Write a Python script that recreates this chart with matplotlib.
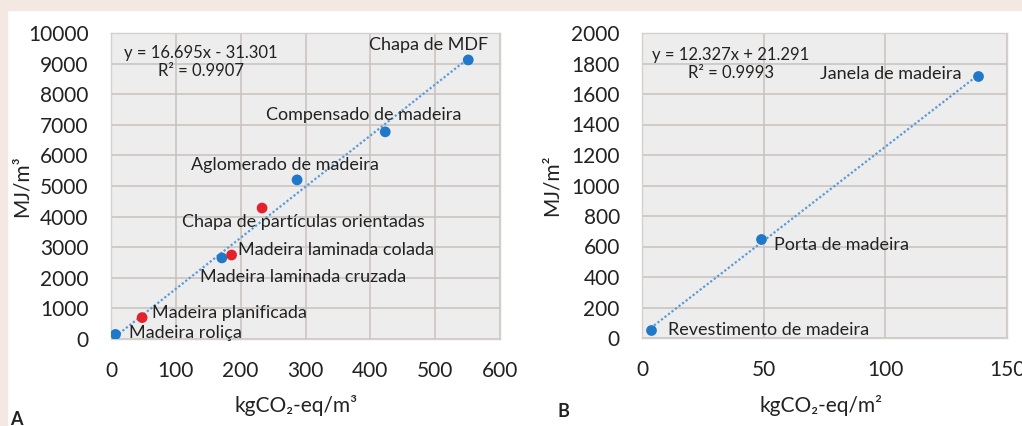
import numpy as np
import matplotlib
matplotlib.use("Agg")
import matplotlib.pyplot as plt

plt.rcParams['font.family'] = ['Lato', 'DejaVu Sans']

# panel A: products per volume
vol_names = ["Madeira roliça", "Madeira planificada", "Madeira laminada cruzada",
             "Madeira laminada colada", "Chapa de partículas orientadas",
             "Aglomerado de madeira", "Compensado de madeira", "Chapa de MDF"]
vol_co2 = [7, 48, 171, 186, 233, 287, 423, 551]
vol_mj = [150, 700, 2650, 2745, 4280, 5200, 6770, 9120]
vol_red = [False, True, False, True, True, False, False, False]
vol_slope, vol_icept, vol_r2 = 16.695, -31.301, 0.9907

# panel B: products per area
area_names = ["Revestimento de madeira", "Porta de madeira", "Janela de madeira"]
area_co2 = [3.5, 49, 138]
area_mj = [55, 650, 1720]
area_slope, area_icept, area_r2 = 12.327, 21.291, 0.9993

BLUE = "#1f78c8"
RED = "#e3222c"
TREND = "#5b9bd5"
GRID = "#c9c1bd"
INK = "#222222"
PX = 0.72  # one pixel in points at dpi 100

fig = plt.figure(figsize=(10.22, 4.26), dpi=100)
fig.patch.set_facecolor("white")
# pinkish page margin along top and left
fig.patches.append(plt.Rectangle((0, 1 - 10 / 426), 1, 10 / 426, transform=fig.transFigure,
                                 color="#f4e8e3", zorder=0))
fig.patches.append(plt.Rectangle((0, 0), 7 / 1022, 1, transform=fig.transFigure,
                                 color="#f4e8e3", zorder=0))

axA = fig.add_axes([111 / 1022, 1 - 339 / 426, 389 / 1022, 306 / 426])
axB = fig.add_axes([642 / 1022, 1 - 338 / 426, 365 / 1022, 305 / 426])


def style(ax, xmax, xstep, ymax, ystep):
    ax.set_facecolor("#eeeded")
    ax.set_xlim(0, xmax)
    ax.set_ylim(0, ymax)
    ax.set_xticks(np.arange(0, xmax + 1, xstep))
    ax.set_yticks(np.arange(0, ymax + 1, ystep))
    ax.grid(True, color=GRID, linewidth=1.1)
    ax.set_axisbelow(True)
    ax.tick_params(length=0, labelsize=15, colors=INK)
    ax.tick_params(axis="y", pad=16)
    ax.tick_params(axis="x", pad=16)
    for s in ax.spines.values():
        s.set_color("#d6d0cd")
        s.set_linewidth(1.0)


style(axA, 600, 100, 10000, 1000)
style(axB, 150, 50, 2000, 200)

# trend lines from the fitted equations
xa = np.array([min(vol_co2), max(vol_co2)])
axA.plot(xa, vol_slope * xa + vol_icept, ls=(0, (1, 1)), color=TREND, lw=1.6, zorder=2)
xb = np.array([min(area_co2), max(area_co2)])
axB.plot(xb, area_slope * xb + area_icept, ls=(0, (1, 1)), color=TREND, lw=1.6, zorder=2)

cols = [RED if r else BLUE for r in vol_red]
axA.scatter(vol_co2, vol_mj, s=60, c=cols, zorder=3, linewidths=0)
axB.scatter(area_co2, area_mj, s=60, c=BLUE, zorder=3, linewidths=0)

# label offsets in pixels and alignment
vol_offsets = [(13, 1, "left"), (10, 5, "left"), (81, -19, "center"), (6, 5, "left"),
               (41, -14, "center"), (-12, 15, "center"), (-22, 17, "center"), (20, 15, "right")]
for name, x, y, (dx, dy, ha) in zip(vol_names, vol_co2, vol_mj, vol_offsets):
    axA.annotate(name, (x, y), xytext=(dx * PX, dy * PX), textcoords="offset points",
                 ha=ha, va="center", fontsize=13, color=INK)

area_offsets = [(17, 0, "left"), (13, -6, "left"), (-16, 2, "right")]
for name, x, y, (dx, dy, ha) in zip(area_names, area_co2, area_mj, area_offsets):
    axB.annotate(name, (x, y), xytext=(dx * PX, dy * PX), textcoords="offset points",
                 ha=ha, va="center", fontsize=13, color=INK)

axA.text(0.231, 0.905, f"y = {vol_slope}x - {abs(vol_icept)}\nR² = {vol_r2}",
         transform=axA.transAxes, ha="center", va="center", fontsize=12,
         linespacing=1.2, color=INK)
axB.text(0.244, 0.898, f"y = {area_slope}x + {area_icept}\nR² = {area_r2}",
         transform=axB.transAxes, ha="center", va="center", fontsize=12,
         linespacing=1.2, color=INK)

axA.set_ylabel("MJ/m³", fontsize=15, color=INK)
axB.set_ylabel("MJ/m²", fontsize=15, color=INK)
axA.set_xlabel("kgCO₂-eq/m³", fontsize=15, color=INK)
axB.set_xlabel("kgCO₂-eq/m²", fontsize=15, color=INK)
axA.yaxis.set_label_coords(-0.231, 0.5)
axB.yaxis.set_label_coords(-0.247, 0.5)
axA.xaxis.set_label_coords(0.475, -0.216)
axB.xaxis.set_label_coords(0.49, -0.22)
for ax in (axA, axB):
    ax.xaxis.label.set_va("center")
    ax.yaxis.label.set_va("center")

fig.text(10 / 1022, 1 / 426, "A", fontsize=13, fontweight="bold", color=INK)
fig.text(557 / 1022, 1 - 417 / 426, "B", fontsize=13, fontweight="bold", color=INK)

fig.savefig("out.png", dpi=100, facecolor=fig.get_facecolor())
